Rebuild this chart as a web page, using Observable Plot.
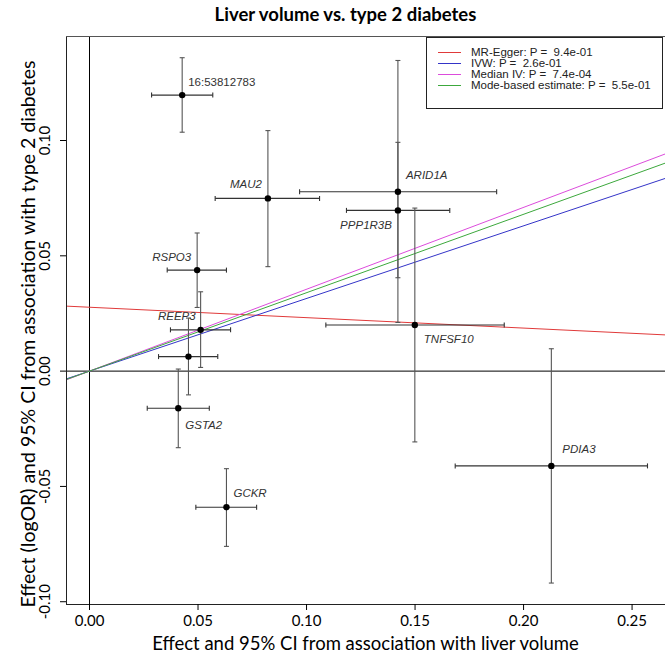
<!DOCTYPE html>
<html><head><meta charset="utf-8">
<script src="https://cdn.jsdelivr.net/npm/d3@7"></script>
<script src="https://cdn.jsdelivr.net/npm/@observablehq/plot@0.6"></script>
<style>
body{margin:0;background:#fff;}
#chart svg{display:block;}
</style></head><body><div id="chart"></div>
<script>
// ---- data ----
const snps  = ["16:53812783","MAU2","ARID1A","PPP1R3B","TNFSF10","PDIA3","GCKR","RSPO3","REEP3","","GSTA2"];
const bx    = [0.0427, 0.0822, 0.1421, 0.1421, 0.1499, 0.2128, 0.0631, 0.0496, 0.0512, 0.0456, 0.0409];
const bxLo  = [0.0286, 0.0579, 0.0968, 0.1184, 0.1089, 0.1685, 0.0490, 0.0358, 0.0373, 0.0318, 0.0266];
const bxHi  = [0.0568, 0.1060, 0.1876, 0.1660, 0.1911, 0.2571, 0.0770, 0.0631, 0.0650, 0.0591, 0.0552];
const by    = [0.1197, 0.0749, 0.0778, 0.0697, 0.0200, -0.0411, -0.0590, 0.0438, 0.0179, 0.0063, -0.0161];
const byLo  = [0.1036, 0.0453, 0.0211, 0.0405, -0.0307, -0.0919, -0.0760, 0.0276, 0.0016, -0.0103, -0.0332];
const byHi  = [0.1359, 0.1043, 0.1347, 0.0992, 0.0707, 0.0097, -0.0423, 0.0599, 0.0344, 0.0230, 0.0009];

const methods    = ["MR-Egger", "IVW", "Median IV", "Mode-based estimate"];
const intercepts = [0.0277, 0, 0, 0];
const slopes     = [-0.0452, 0.315, 0.355, 0.340];
const pvalues    = ["9.4e-01", "2.6e-01", "7.4e-04", "5.5e-01"];

const xTicks = [0, 0.05, 0.10, 0.15, 0.20, 0.25];
const yTicks = [-0.10, -0.05, 0, 0.05, 0.10];

// ---- styling ----
const lineColors = ["#e03a3a", "#3434c8", "#dc4cdc", "#3ca83c"];
const labelPlace = {
  "16:53812783": {dx: 6, dy: -13, anchor: "start", italic: false},
  "MAU2":    {dx: -6, dy: -14, anchor: "end", italic: true},
  "ARID1A":  {dx: 8, dy: -16, anchor: "start", italic: true},
  "PPP1R3B": {dx: -6, dy: 15, anchor: "end", italic: true},
  "TNFSF10": {dx: 9, dy: 14, anchor: "start", italic: true},
  "PDIA3":   {dx: 11, dy: -17, anchor: "start", italic: true},
  "GCKR":    {dx: 7, dy: -14, anchor: "start", italic: true},
  "RSPO3":   {dx: -6, dy: -12.5, anchor: "end", italic: true},
  "REEP3":   {dx: -5, dy: -14, anchor: "end", italic: true},
  "GSTA2":   {dx: 7, dy: 17.5, anchor: "start", italic: true}
};

const points = snps.map((s, i) => ({snp: s, x: bx[i], xlo: bxLo[i], xhi: bxHi[i], y: by[i], ylo: byLo[i], yhi: byHi[i]}));
const xDomain = [-0.0106, 0.2654];
const yDomain = [-0.1012, 0.1451];
const fmt = d => d3.format(".2f")(d).replace("\u2212", "-");

const capV = {draw(ctx) { ctx.moveTo(0, -2.5); ctx.lineTo(0, 2.5); }};
const capH = {draw(ctx) { ctx.moveTo(-2.5, 0); ctx.lineTo(2.5, 0); }};

const fitMarks = methods.map((m, i) => Plot.line(
  xDomain.map(x => ({x, y: intercepts[i] + slopes[i] * x})),
  {x: "x", y: "y", stroke: lineColors[i], strokeWidth: 1, clip: true}
));

const labelMarks = points.filter(p => p.snp && labelPlace[p.snp]).map(p => {
  const o = labelPlace[p.snp];
  return Plot.text([p], {x: "x", y: "y", text: "snp", dx: o.dx, dy: o.dy, textAnchor: o.anchor,
    fontStyle: o.italic ? "italic" : "normal", fontSize: 11.5, fill: "#333",
    fontFamily: "Liberation Sans, Arial, sans-serif"});
});

const W = 665, H = 661;
const chart = Plot.plot({
  width: W, height: H,
  marginLeft: 66, marginRight: 0, marginTop: 36, marginBottom: 57,
  x: {domain: xDomain},
  y: {domain: yDomain},
  style: {fontFamily: "Lato, sans-serif", background: "#fff", color: "#000"},
  marks: [
    Plot.ruleX([0], {stroke: "#000", strokeWidth: 1}),
    Plot.ruleY([0], {stroke: "#000", strokeWidth: 1}),
    ...fitMarks,
    Plot.link(points, {x1: "xlo", x2: "xhi", y1: "y", y2: "y", stroke: "#333", strokeWidth: 1.1}),
    Plot.link(points, {x1: "x", x2: "x", y1: "ylo", y2: "yhi", stroke: "#555", strokeWidth: 1.1}),
    Plot.dot(points, {x: "xlo", y: "y", symbol: capV, stroke: "#333", fill: "none", strokeWidth: 1.1}),
    Plot.dot(points, {x: "xhi", y: "y", symbol: capV, stroke: "#333", fill: "none", strokeWidth: 1.1}),
    Plot.dot(points, {x: "x", y: "ylo", symbol: capH, stroke: "#555", fill: "none", strokeWidth: 1.1}),
    Plot.dot(points, {x: "x", y: "yhi", symbol: capH, stroke: "#555", fill: "none", strokeWidth: 1.1}),
    Plot.dot(points, {x: "x", y: "y", r: 3.2, fill: "#000", stroke: "none"}),
    ...labelMarks,
    // box
    Plot.ruleX([xDomain[0]], {stroke: "#222"}),
    Plot.ruleY([yDomain[0]], {stroke: "#222"}),
    Plot.ruleY([yDomain[1]], {stroke: "#555"}),
    Plot.axisX({ticks: xTicks, tickFormat: fmt, tickSize: 6, tickPadding: 5, fontSize: 15, label: null, anchor: "bottom"}),
    Plot.axisY({ticks: yTicks, tickFormat: () => "", tickSize: 6, label: null, anchor: "left"}),
    Plot.text(yTicks, {y: d => d, text: fmt, frameAnchor: "left", dx: -21, rotate: -90,
      textAnchor: "middle", lineAnchor: "middle", fontSize: 15})
  ]
});
document.getElementById("chart").appendChild(chart);

// titles and legend
const svg = d3.select(chart);
svg.append("text").attr("x", 345.5).attr("y", 16).attr("text-anchor", "middle").attr("dominant-baseline", "middle")
  .attr("font-family", "Lato, sans-serif").attr("font-weight", "bold").attr("font-size", 18.5).attr("fill", "#000")
  .text("Liver volume vs. type 2 diabetes");
svg.append("text").attr("x", 365.5).attr("y", 645).attr("text-anchor", "middle").attr("dominant-baseline", "middle")
  .attr("font-family", "Lato, sans-serif").attr("font-size", 18.5).attr("fill", "#000")
  .text("Effect and 95% CI from association with liver volume");
svg.append("text").attr("transform", "translate(30,334) rotate(-90)").attr("text-anchor", "middle").attr("dominant-baseline", "middle")
  .attr("font-family", "Lato, sans-serif").attr("font-size", 19.5).attr("fill", "#000")
  .text("Effect (logOR) and 95% CI from association with type 2 diabetes");

const lg = svg.append("g");
lg.append("rect").attr("x", 426.5).attr("y", 37.5).attr("width", 236).attr("height", 71)
  .attr("fill", "#fff").attr("stroke", "#222").attr("stroke-width", 1);
methods.forEach((m, i) => {
  const yy = 52.5 + i * 11;
  lg.append("line").attr("x1", 438).attr("x2", 461).attr("y1", yy).attr("y2", yy)
    .attr("stroke", lineColors[i]).attr("stroke-width", 1);
  lg.append("text").attr("x", 471).attr("y", yy).attr("text-anchor", "start").attr("dominant-baseline", "middle")
    .attr("font-family", "Liberation Sans, Arial, sans-serif").attr("font-size", 11.5).attr("fill", "#222")
    .style("white-space", "pre")
    .text(`${m}: P =  ${pvalues[i]}`);
});
</script></body></html>
